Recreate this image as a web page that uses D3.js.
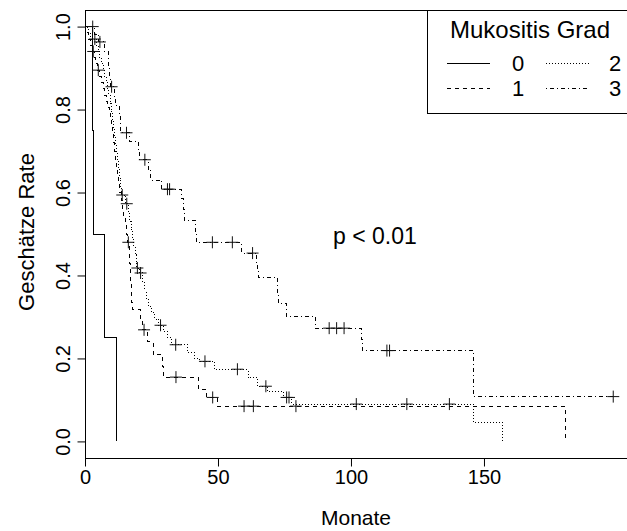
<!DOCTYPE html>
<html>
<head>
<meta charset="utf-8">
<script src="https://cdnjs.cloudflare.com/ajax/libs/d3/7.8.5/d3.min.js"></script>
<style>
  body { margin: 0; background: #fff; }
  svg text { font-family: "Liberation Sans", Arial, sans-serif; fill: #000; }
</style>
</head>
<body>
<div id="chart"></div>
<script>
// Kaplan-Meier steps: [month, rate after the step]
var grade0Events = [[2.7, 0.75], [3.1, 0.5], [7.5, 0.25], [11.7, 0]];
var grade0Censored = [];

var grade1Events = [[0.8, 0.985], [1.5, 0.97], [2.2, 0.955], [2.8, 0.94], [3.6, 0.925], [4.1, 0.91],
  [4.6, 0.895], [5.5, 0.88], [6.2, 0.865], [6.9, 0.85], [7.5, 0.835], [8.1, 0.82], [8.6, 0.805],
  [9.1, 0.79], [9.5, 0.775], [9.9, 0.76], [10.3, 0.74], [10.7, 0.72], [11.1, 0.70], [11.5, 0.68],
  [11.9, 0.66], [12.3, 0.64], [12.7, 0.62], [13.1, 0.60], [13.6, 0.58], [14.1, 0.56], [14.6, 0.54],
  [15.1, 0.52], [15.6, 0.50], [16.0, 0.48], [16.6, 0.455], [16.8, 0.43], [17.0, 0.405], [17.2, 0.38],
  [17.4, 0.355], [17.6, 0.335], [17.8, 0.317], [21.0, 0.293], [21.8, 0.269], [23.5, 0.241],
  [25.6, 0.209], [29.2, 0.18], [29.5, 0.155], [42.6, 0.126], [45.8, 0.106], [49.8, 0.085], [180.5, 0]];
var grade1Censored = [3.1, 5.0, 16.3, 22.2, 34.2, 48.0, 59.8, 63.3, 79.3];

var grade2Events = [[1.2, 0.985], [2.2, 0.97], [4.3, 0.955], [5.0, 0.94], [5.6, 0.925], [6.3, 0.91],
  [6.9, 0.895], [7.5, 0.88], [8.0, 0.865], [8.5, 0.85], [9.0, 0.835], [9.4, 0.815], [9.8, 0.795],
  [10.2, 0.775], [10.6, 0.755], [11.0, 0.735], [11.4, 0.715], [11.8, 0.695], [12.2, 0.675],
  [12.6, 0.655], [13.0, 0.635], [13.5, 0.615], [13.9, 0.594], [15.2, 0.573], [16.3, 0.552],
  [16.8, 0.531], [17.3, 0.51], [17.8, 0.49], [18.3, 0.47], [18.8, 0.45], [19.2, 0.43], [19.5, 0.418],
  [20.4, 0.406], [21.5, 0.385], [22.3, 0.365], [23.1, 0.345], [24.0, 0.325], [25.1, 0.31],
  [26.3, 0.295], [27.6, 0.28], [29.6, 0.265], [31.1, 0.25], [32.6, 0.233], [38.6, 0.215],
  [41.2, 0.2], [43.0, 0.193], [48.8, 0.174], [61.3, 0.153], [65.0, 0.133], [68.6, 0.12],
  [74.7, 0.106], [77.7, 0.09], [146.2, 0.046], [157.0, 0]];
var grade2Censored = [3.7, 14.0, 15.7, 19.7, 20.9, 28.4, 34.1, 45.1, 57.3, 68.0, 75.8, 76.7, 102, 121, 137];

var grade3Events = [[3.5, 0.982], [5.0, 0.963], [7.3, 0.94], [8.8, 0.92], [9.0, 0.9], [9.2, 0.877],
  [9.4, 0.855], [11.2, 0.832], [11.5, 0.81], [13.0, 0.79], [13.2, 0.768], [13.4, 0.744], [16.9, 0.723],
  [20.3, 0.70], [20.5, 0.679], [23.7, 0.653], [24.8, 0.63], [28.7, 0.608], [36.3, 0.585], [36.9, 0.56],
  [37.5, 0.532], [41.4, 0.506], [42.0, 0.48], [58.9, 0.454], [64.5, 0.43], [64.9, 0.41], [65.3, 0.394],
  [72.3, 0.36], [72.6, 0.333], [75.8, 0.301], [86.8, 0.273], [104.0, 0.245], [104.2, 0.219],
  [146.2, 0.108]];
var grade3Censored = [2.9, 5.6, 10.0, 15.6, 22.5, 31.0, 31.8, 47.9, 55.4, 63.0, 91.8, 94.6, 97.4,
  113.5, 114.5, 198.6];

var groupNames = ["0", "1", "2", "3"];
var xTicks = [0, 50, 100, 150];
var yTicks = [0, 0.2, 0.4, 0.6, 0.8, 1.0];

var groups = [
  { name: groupNames[0], events: grade0Events, censored: grade0Censored, dash: null },
  { name: groupNames[1], events: grade1Events, censored: grade1Censored, dash: "4,4" },
  { name: groupNames[2], events: grade2Events, censored: grade2Censored, dash: "1,2" },
  { name: groupNames[3], events: grade3Events, censored: grade3Censored, dash: "1,3,4,3" }
];

var W = 627, H = 531;
var box = { left: 85, right: 630, top: 10, bottom: 458 };

var svg = d3.select("#chart").append("svg")
  .attr("width", W)
  .attr("height", H);

var x = d3.scaleLinear().domain([0, 204.9]).range([box.left, box.right]);
var y = d3.scaleLinear().domain([-0.04, 1.04]).range([box.bottom, box.top]);

// rate at time t (value of the last step before t)
function survAt(events, t) {
  var v = 1;
  events.forEach(function (e) { if (e[0] <= t) v = e[1]; });
  return v;
}

//curves
var line = d3.line()
  .x(function (d) { return x(d[0]); })
  .y(function (d) { return y(d[1]); })
  .curve(d3.curveStepAfter);

groups.forEach(function (g) {
  var pts = [[0, 1]].concat(g.events);
  var last = pts[pts.length - 1];
  var tEnd = d3.max(g.censored.concat([last[0]]));
  if (tEnd > last[0]) pts.push([tEnd, last[1]]);

  svg.append("path")
    .attr("d", line(pts))
    .attr("fill", "none")
    .attr("stroke", "#000")
    .attr("stroke-width", 1)
    .attr("stroke-dasharray", g.dash)
    .attr("shape-rendering", "crispEdges");

  // censoring marks
  svg.selectAll(null)
    .data(g.censored)
    .enter()
    .append("path")
    .attr("d", function (t) {
      var cx = x(t), cy = y(survAt(g.events, t));
      return "M" + (cx - 6) + "," + cy + "H" + (cx + 6) + "M" + cx + "," + (cy - 6) + "V" + (cy + 6);
    })
    .attr("stroke", "#111")
    .attr("stroke-width", 1)
    .attr("fill", "none");
});

// frame
svg.append("rect")
  .attr("x", box.left + 0.5)
  .attr("y", box.top + 0.5)
  .attr("width", box.right - box.left)
  .attr("height", box.bottom - box.top)
  .attr("fill", "none")
  .attr("stroke", "#000");

//axes
var xAxis = svg.append("g")
  .attr("transform", "translate(0," + (box.bottom + 0.5) + ")")
  .call(d3.axisBottom(x).tickValues(xTicks).tickSize(8).tickSizeOuter(0).tickPadding(3));
xAxis.select(".domain").remove();
xAxis.selectAll("text").attr("font-size", 20).style("font-family", null);

var yAxis = svg.append("g")
  .attr("transform", "translate(" + (box.left + 0.5) + ",0)")
  .call(d3.axisLeft(y).tickValues(yTicks).tickSize(8).tickSizeOuter(0).tickFormat(d3.format(".1f")));
yAxis.select(".domain").remove();
yAxis.selectAll("text")
  .attr("x", 0).attr("y", 0).attr("dy", null)
  .attr("text-anchor", "middle")
  .attr("transform", "translate(-16,0) rotate(-90)")
  .attr("font-size", 20);
svg.selectAll(".tick line").attr("stroke", "#000");

svg.append("text")
  .attr("x", (box.left + 627) / 2)
  .attr("y", 525)
  .attr("text-anchor", "middle")
  .attr("font-size", 21)
  .text("Monate");

svg.append("text")
  .attr("transform", "translate(34," + (y(0.5) - 2) + ") rotate(-90)")
  .attr("text-anchor", "middle")
  .attr("font-size", 22)
  .text("Geschätze Rate");

svg.append("text")
  .attr("x", 333)
  .attr("y", 244)
  .attr("font-size", 23)
  .text("p < 0.01");

// legend
var legend = svg.append("g").attr("class", "legend");
legend.append("rect")
  .attr("x", 427.5)
  .attr("y", box.top + 0.5)
  .attr("width", box.right - 427)
  .attr("height", 103)
  .attr("fill", "#fff")
  .attr("stroke", "#000");
legend.append("text")
  .attr("x", 530)
  .attr("y", 38)
  .attr("text-anchor", "middle")
  .attr("font-size", 24)
  .text("Mukositis Grad");

legend.selectAll("line")
  .data(groups)
  .enter()
  .append("line")
  .attr("x1", function (d, i) { return 447 + Math.floor(i / 2) * 99; })
  .attr("x2", function (d, i) { return 490 + Math.floor(i / 2) * 99; })
  .attr("y1", function (d, i) { return 63.5 + (i % 2) * 25; })
  .attr("y2", function (d, i) { return 63.5 + (i % 2) * 25; })
  .attr("stroke", "#000")
  .attr("stroke-dasharray", function (d) { return d.dash; });
legend.selectAll("text.lab")
  .data(groups)
  .enter()
  .append("text")
  .attr("class", "lab")
  .attr("x", function (d, i) { return 518 + Math.floor(i / 2) * 97; })
  .attr("y", function (d, i) { return 71 + (i % 2) * 25; })
  .attr("text-anchor", "middle")
  .attr("font-size", 22)
  .text(function (d) { return d.name; });
</script>
</body>
</html>
